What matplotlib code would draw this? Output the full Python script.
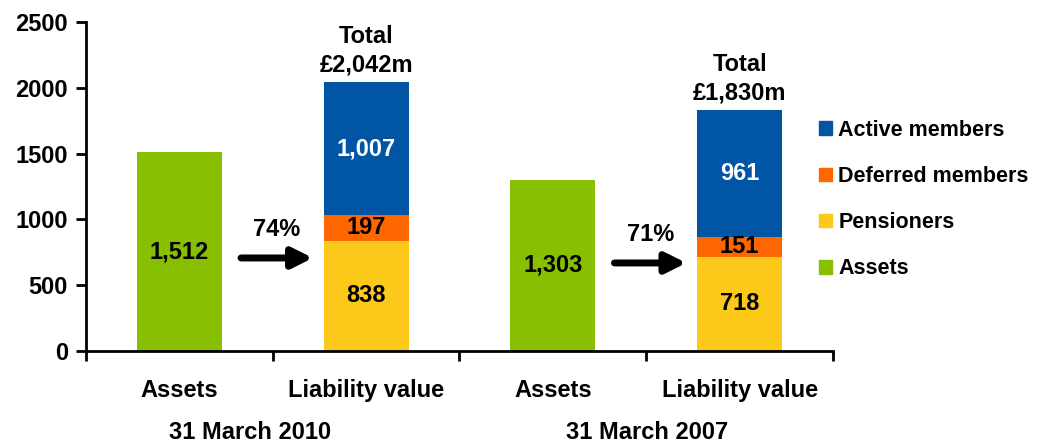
import matplotlib.pyplot as plt
from matplotlib.patches import Patch

plt.rcParams['font.family'] = ['Liberation Sans', 'DejaVu Sans']
plt.rcParams['font.weight'] = 'bold'

# data
categories = ["Assets", "Liability value", "Assets", "Liability value"]
groups = ["31 March 2010", "31 March 2007"]
assets = [1512, 1303]
pensioners = [838, 718]
deferred = [197, 151]
active = [1007, 961]
totals = ["£2,042m", "£1,830m"]
funding = ["74%", "71%"]

green = "#88BF00"
blue = "#0055A5"
orange = "#FF6600"
yellow = "#FCC81A"

fig = plt.figure(figsize=(10.39, 4.45), dpi=100)
ax = fig.add_axes([0.0828, 0.2112, 0.7189, 0.7394])

w = 0.455
asset_x = [0, 2]
liab_x = [1, 3]
fs = 17

for i in range(2):
    xa, xl = asset_x[i], liab_x[i]
    ax.bar(xa, assets[i], width=w, color=green)
    ax.text(xa, assets[i] / 2, f"{assets[i]:,}", ha="center", va="center", fontsize=fs)

    b1 = pensioners[i]
    b2 = b1 + deferred[i]
    top = b2 + active[i]
    ax.bar(xl, pensioners[i], width=w, color=yellow)
    ax.bar(xl, deferred[i], bottom=b1, width=w, color=orange)
    ax.bar(xl, active[i], bottom=b2, width=w, color=blue)
    ax.text(xl, b1 / 2, f"{pensioners[i]:,}", ha="center", va="center", fontsize=fs)
    ax.text(xl, b1 + deferred[i] / 2, f"{deferred[i]:,}", ha="center", va="center", fontsize=fs)
    ax.text(xl, b2 + active[i] / 2, f"{active[i]:,}", ha="center", va="center",
            fontsize=fs, color="white")
    ax.annotate(f"Total\n{totals[i]}", (xl, top), xytext=(0, 4), textcoords="offset points",
                ha="center", va="bottom", fontsize=fs, linespacing=1.3)

# arrows with funding level
arrow_y = [707, 669]
for i in range(2):
    x0 = asset_x[i] + 0.33
    x1 = asset_x[i] + 0.715
    ax.annotate("", xy=(x1, arrow_y[i]), xytext=(x0, arrow_y[i]),
                arrowprops=dict(arrowstyle="-|>,head_length=0.6,head_width=0.3",
                                mutation_scale=20, color="black", lw=5,
                                shrinkA=0, shrinkB=0))
    ax.text((x0 + x1) / 2, arrow_y[i] + 220, funding[i], ha="center", va="center", fontsize=fs)

ax.set_xlim(-0.5, 3.5)
ax.set_ylim(0, 2500)
ax.set_yticks(range(0, 2501, 500))
ax.set_xticks(range(4))
ax.set_xticklabels(categories)
ax.set_xticks([-0.5, 0.5, 1.5, 2.5, 3.5], minor=True)
ax.tick_params(axis="x", which="major", length=0, pad=20, labelsize=fs)
ax.tick_params(axis="x", which="minor", length=7, width=2, direction="out")
ax.tick_params(axis="y", length=7, width=2, direction="out", labelsize=fs, pad=6)
for s in ["top", "right"]:
    ax.spines[s].set_visible(False)
for s in ["left", "bottom"]:
    ax.spines[s].set_linewidth(2)

group_x = [0.377, 2.505]
for gx, g in zip(group_x, groups):
    ax.text(gx, -0.248, g, transform=ax.get_xaxis_transform(), ha="center", va="center", fontsize=fs)

handles = [Patch(color=blue), Patch(color=orange), Patch(color=yellow), Patch(color=green)]
labels = ["Active members", "Deferred members", "Pensioners", "Assets"]
fig.legend(handles, labels, loc="upper left", bbox_to_anchor=(0.778, 0.755), frameon=False,
           fontsize=15.5, handlelength=0.6, handleheight=0.6, handletextpad=0.3,
           labelspacing=1.17, borderpad=0)

fig.savefig("out.png", dpi=100)
